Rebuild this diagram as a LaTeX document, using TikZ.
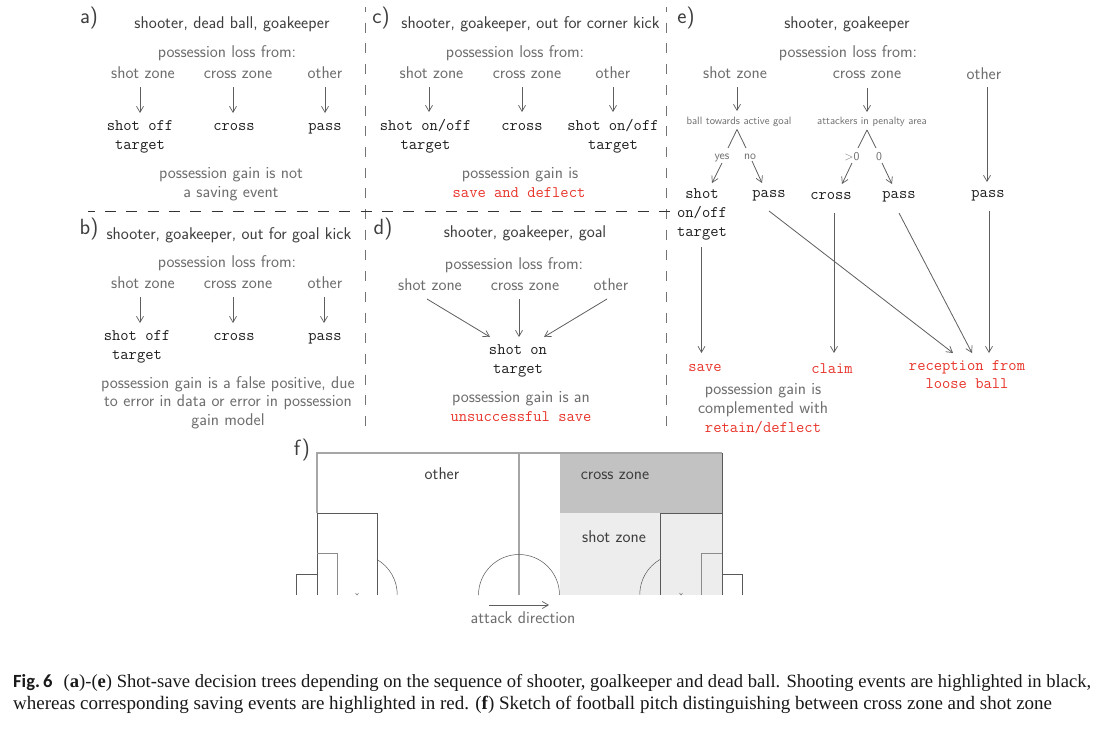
\documentclass[tikz,border=0pt]{standalone}
\usepackage{fontspec}
\usetikzlibrary{arrows.meta}
\newfontfamily\capfont{Liberation Serif}
\newfontfamily\figfont{Carlito}
\definecolor{lab}{HTML}{6E6E6E}
\definecolor{ttl}{HTML}{3E3E3E}
\definecolor{evt}{HTML}{1E1E1E}
\definecolor{red1}{HTML}{E8352B}
\definecolor{ln}{HTML}{5E5E5E}
\tikzset{
 basetxt/.style={inner sep=0pt,outer sep=0pt,text height=11.5pt,text depth=0.5pt,align=center},
 labtxt/.style={basetxt,text=lab,font=\fontsize{17}{17}\sffamily},
 ttltxt/.style={basetxt,text=ttl,font=\fontsize{17}{17}\sffamily},
 pantxt/.style={basetxt,text=ttl,font=\fontsize{22}{22}\sffamily},
 evtxt/.style={basetxt,text=evt,font=\fontsize{16.1}{16.1}\ttfamily},
 svtxt/.style={basetxt,text=red1,font=\fontsize{16.1}{16.1}\ttfamily},
 tinytxt/.style={basetxt,text=lab,text height=8pt,text depth=0pt,font=\fontsize{10.7}{10.7}\sffamily},
 smalltxt/.style={basetxt,text=lab,text height=8pt,text depth=0pt,font=\fontsize{12}{12}\sffamily},
 pitchtxt/.style={basetxt,text=ttl,font=\fontsize{17}{17}\sffamily},
 arr/.style={draw=ln,line width=0.8pt,-{Straight Barb[length=6pt,width=7pt,line width=0.7pt]}},
 seg/.style={draw=ln,line width=0.8pt},
 vsep/.style={draw=black!55,line width=0.9pt,dash pattern=on 10pt off 10.7pt,dash phase=5pt},
 hsep/.style={draw=black!80,line width=0.8pt,dash pattern=on 11pt off 10.3pt,dash phase=4.3pt},
 thinline/.style={draw=black!65,line width=0.6pt},
 greyline/.style={draw=black!35,line width=1.1pt},
 captxt/.style={inner sep=0pt,anchor=base west,text=black!90,font=\fontsize{18.6}{18.6}\capfont},
}
\begin{document}
\begin{tikzpicture}[x=1pt,y=-1pt]
\useasboundingbox (0,0) rectangle (1100,728);
\fill[white] (0,0) rectangle (1100,728);
% separators
\coordinate (v1t) at (365,7); \coordinate (v1b) at (365,431);
\coordinate (v2t) at (666,7); \coordinate (v2b) at (666,431);
\coordinate (hl) at (88,211); \coordinate (hr) at (672,211);
\draw[vsep] (v1t) -- (v1b);
\draw[vsep] (v2t) -- (v2b);
\draw[hsep] (hl) -- (hr);
% panel a
\node[pantxt] (pa) at (89,18) {a)};
\node[ttltxt] (ta) at (232,23) {shooter, dead ball, goakeeper};
\node[labtxt] (la) at (227,52) {possession loss from:};
\node[labtxt] (a1) at (143,73) {shot zone};
\node[labtxt] (a2) at (238,73) {cross zone};
\node[labtxt] (a3) at (325,73) {other};
\node[evtxt] (a1e) at (140,125) {shot off};
\node[evtxt] (a1f) at (140,144) {target};
\node[evtxt] (a2e) at (234,125) {cross};
\node[evtxt] (a3e) at (325,125) {pass};
\node[labtxt] (ga1) at (231,173) {possession gain is not};
\node[labtxt] (ga2) at (231,192) {a saving event};
\draw[arr] ([shift={(-3,8)}]a1.south) -- ([shift={(0,-6)}]a1e.north);
\draw[arr] ([shift={(-5,8)}]a2.south) -- ([shift={(-1,-6)}]a2e.north);
\draw[arr] ([shift={(0,8)}]a3.south) -- ([shift={(0,-6)}]a3e.north);
% panel c
\node[pantxt] (pc) at (381,18) {c)};
\node[ttltxt] (tc) at (530.5,23) {shooter, goakeeper, out for corner kick};
\node[labtxt] (lc) at (515,52) {possession loss from:};
\node[labtxt] (c1) at (431.5,73) {shot zone};
\node[labtxt] (c2) at (527,73) {cross zone};
\node[labtxt] (c3) at (613,73) {other};
\node[evtxt] (c1e) at (425.5,125) {shot on/off};
\node[evtxt] (c1f) at (425.5,144) {target};
\node[evtxt] (c2e) at (522,125) {cross};
\node[evtxt] (c3e) at (613,125) {shot on/off};
\node[evtxt] (c3f) at (613,144) {target};
\node[labtxt] (gc1) at (520,173) {possession gain is};
\node[svtxt] (gc2) at (519,192) {save and deflect};
\draw[arr] ([shift={(-2.5,8)}]c1.south) -- ([shift={(3.5,-7)}]c1e.north);
\draw[arr] ([shift={(-5,8)}]c2.south) -- ([shift={(0,-7)}]c2e.north);
\draw[arr] ([shift={(0,8)}]c3.south) -- ([shift={(0,-7)}]c3e.north);
% panel b
\node[pantxt] (pb) at (89,229) {b)};
\node[ttltxt] (tb) at (229,234) {shooter, goakeeper, out for goal kick};
\node[labtxt] (lb) at (227,262) {possession loss from:};
\node[labtxt] (b1) at (143,283) {shot zone};
\node[labtxt] (b2) at (238,283) {cross zone};
\node[labtxt] (b3) at (325,283) {other};
\node[evtxt] (b1e) at (137,335) {shot off};
\node[evtxt] (b1f) at (137,354) {target};
\node[evtxt] (b2e) at (234,335) {cross};
\node[evtxt] (b3e) at (325,335) {pass};
\node[labtxt] (gb1) at (228,383) {possession gain is a false positive, due};
\node[labtxt] (gb2) at (228,401) {to error in data or error in possession};
\node[labtxt] (gb3) at (228,420) {gain model};
\draw[arr] ([shift={(-3,8)}]b1.south) -- ([shift={(3,-6)}]b1e.north);
\draw[arr] ([shift={(-5,8)}]b2.south) -- ([shift={(-1,-6)}]b2e.north);
\draw[arr] ([shift={(-1,8)}]b3.south) -- ([shift={(-1,-6)}]b3e.north);
% panel d
\node[pantxt] (pd) at (383,229) {d)};
\node[ttltxt] (td) at (525,232) {shooter, goakeeper, goal};
\node[labtxt] (ld) at (514,264) {possession loss from:};
\node[labtxt] (d1) at (430,285) {shot zone};
\node[labtxt] (d2) at (525,285) {cross zone};
\node[labtxt] (d3) at (611,285) {other};
\node[evtxt] (d4) at (518,349) {shot on};
\node[evtxt] (d5) at (518,368) {target};
\node[labtxt] (gd1) at (521,397) {possession gain is an};
\node[svtxt] (gd2) at (521,416) {unsuccessful save};
\draw[arr] ([shift={(-3,8)}]d1.south) -- ([shift={(-28,-6)}]d4.north);
\draw[arr] ([shift={(-6,8)}]d2.south) -- ([shift={(1,-6)}]d4.north);
\draw[arr] ([shift={(-4,8)}]d3.south) -- ([shift={(26,-6)}]d4.north);
% panel e
\node[pantxt] (pe) at (686,18) {e)};
\node[ttltxt] (te) at (847,23) {shooter, goakeeper};
\node[labtxt] (le) at (848,52) {possession loss from:};
\node[labtxt] (e1) at (735,73) {shot zone};
\node[labtxt] (e2) at (867,73) {cross zone};
\node[labtxt] (e3) at (984,74) {other};
\node[tinytxt] (q1) at (739,120) {ball towards active goal};
\node[tinytxt] (q2) at (872,120) {attackers in penalty area};
\node[smalltxt] (y1) at (722,155) {yes};
\node[smalltxt] (n1) at (750,155) {no};
\node[smalltxt] (y2) at (852,156) {>0};
\node[smalltxt] (n2) at (879,156) {0};
\node[evtxt] (s1) at (702,193) {shot};
\node[evtxt] (s2) at (702,212) {on/off};
\node[evtxt] (s3) at (702,231) {target};
\node[evtxt] (p1) at (769,192) {pass};
\node[evtxt] (c9) at (831,194) {cross};
\node[evtxt] (p2) at (899,193) {pass};
\node[evtxt] (p3) at (988,192) {pass};
\node[svtxt] (r1) at (705,366) {save};
\node[svtxt] (r2) at (832,368) {claim};
\node[svtxt] (r3) at (967,365) {reception from};
\node[svtxt] (r4) at (967,383) {loose ball};
\node[labtxt] (ge1) at (763,389) {possession gain is};
\node[labtxt] (ge2) at (763,408) {complemented with};
\node[svtxt] (ge3) at (763,427) {retain/deflect};
\draw[arr] ([shift={(2,8)}]e1.south) -- ([shift={(-2,-5)}]q1.north);
\draw[arr] ([shift={(0,9)}]e2.south) -- ([shift={(-5,-4)}]q2.north);
\draw[arr] ([shift={(3,7)}]e3.south) -- ([shift={(-1,-4)}]p3.north);
\coordinate (ap1) at (737,129.5);
\coordinate (ap2) at (867,130);
\draw[seg] (ap1) -- ([shift={(6,-3)}]y1.north);
\draw[seg] (ap1) -- ([shift={(-4,-3)}]n1.north);
\draw[arr] ([shift={(0,4)}]y1.south) -- ([shift={(10,-4)}]s1.north);
\draw[arr] ([shift={(2,2)}]n1.south) -- ([shift={(-7,-3)}]p1.north);
\draw[seg] (ap2) -- ([shift={(6,-4)}]y2.north);
\draw[seg] (ap2) -- ([shift={(-3,-4)}]n2.north);
\draw[arr] ([shift={(0,3)}]y2.south) -- ([shift={(11,-4)}]c9.north);
\draw[arr] ([shift={(3,3)}]n2.south) -- ([shift={(-7,-3)}]p2.north);
\draw[arr] ([shift={(-0.5,10)}]s3.south) -- ([shift={(-3.5,-7)}]r1.north);
\draw[arr] ([shift={(0,13)}]p1.south) -- ([shift={(-14,-6)}]r3.north);
\draw[arr] ([shift={(3,13)}]c9.south) -- ([shift={(2,-9)}]r2.north);
\draw[arr] ([shift={(0,14)}]p2.south) -- ([shift={(5,-6)}]r3.north);
\draw[arr] ([shift={(1,13)}]p3.south) -- ([shift={(22,-6)}]r3.north);
% panel f
\node[pantxt] (pf) at (302,450) {f)};
\fill[fill=black!24,draw=none] (560,453) rectangle (722,513);
\fill[fill=black!7,draw=none] (560,513) rectangle (722,595);
\draw[greyline] (317,513) -- (317,453) -- (722,453);
\draw[thinline] (722,453) -- (722,595);
\draw[greyline] (519,453) -- (519,595);
\draw[thinline] (317,595) -- (317,513) -- (377,513) -- (377,595);
\draw[thinline] (722,513) -- (660,513) -- (660,595);
\draw[thinline,draw=black!45] (317,553) -- (337,553) -- (337,595);
\draw[thinline,draw=black!45] (722,553) -- (701,553) -- (701,595);
\draw[thinline] (317,574) -- (296,574) -- (296,595);
\draw[thinline] (722,574) -- (742,574) -- (742,595);
\draw[thinline,line width=0.5pt] (377,559.5) arc[start angle=-60,end angle=0,radius=40.5];
\draw[thinline,line width=0.5pt] (660,559.5) arc[start angle=240,end angle=180,radius=40.5];
\draw[thinline,line width=0.5pt] (478.5,595) arc[start angle=180,end angle=360,radius=40.5];
\draw[thinline,line width=0.4pt] (355.5,593) -- (357,595) -- (358.5,593);
\draw[thinline,line width=0.4pt] (679.5,593) -- (681,595) -- (682.5,593);
\node[pitchtxt] (f1) at (442,474) {other};
\node[pitchtxt] (f2) at (615,474) {cross zone};
\node[pitchtxt] (f3) at (614,537) {shot zone};
\node[labtxt] (f4) at (523,618) {attack direction};
\draw[arr] ([shift={(-34,-7)}]f4.north) -- ([shift={(26,-7)}]f4.north);
% caption
\node[captxt] (cap1) at (13,687) {{\figfont\bfseries Fig.\,6}\hspace{11pt}({\bfseries a})-({\bfseries e}) Shot-save decision trees depending on the sequence of shooter, goalkeeper and dead ball. Shooting events are highlighted in black,};
\node[captxt,font=\fontsize{19}{19}\capfont] (cap2) at (13,709) {whereas corresponding saving events are highlighted in red. ({\bfseries f}) Sketch of football pitch distinguishing between cross zone and shot zone};
\end{tikzpicture}
\end{document}
